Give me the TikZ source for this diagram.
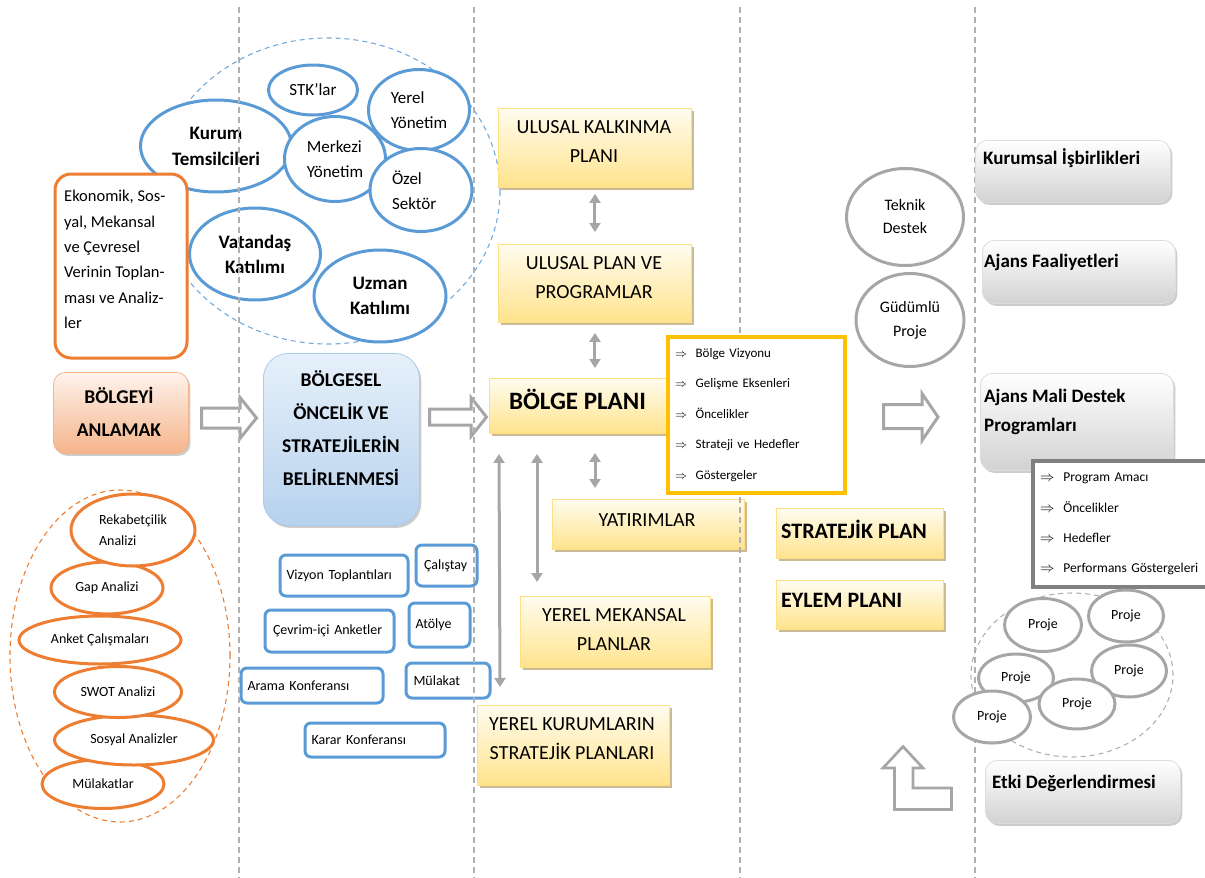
\documentclass[tikz,border=0pt]{standalone}
\usepackage{fontspec}
\setmainfont{Carlito}
\usetikzlibrary{shapes.geometric,arrows.meta,shadows,calc}
\definecolor{blueE}{HTML}{5B9BD5}
\definecolor{orangeE}{HTML}{ED7D31}
\definecolor{grayE}{HTML}{A6A6A6}
\definecolor{ytop}{HTML}{FFFCEF}
\definecolor{ybot}{HTML}{FFE38C}
\definecolor{ybord}{HTML}{FFDF85}
\definecolor{ysh}{HTML}{C4B489}
\definecolor{goldc}{HTML}{FFC000}
\definecolor{btop}{HTML}{E6F0FA}
\definecolor{bbot}{HTML}{B7D2EE}
\definecolor{bbord}{HTML}{A9CBEA}
\definecolor{otop}{HTML}{FEF3EC}
\definecolor{obot}{HTML}{F5B48A}
\definecolor{gbot}{HTML}{D2D2D2}
\definecolor{gbord}{HTML}{DDDDDD}
\definecolor{listgray}{HTML}{808080}
\definecolor{vlinec}{HTML}{B0B0B0}
\newcommand\fsz[2]{\fontsize{#1}{#2}\selectfont}
\begin{document}
\begin{tikzpicture}[x=1pt,y=-1pt,
  every node/.style={inner sep=0pt},
  blueell/.style={ellipse, draw=blueE, line width=3pt, fill=white, align=center},
  orell/.style={ellipse, draw=orangeE, line width=3pt, fill=white, align=center, font=\fsz{14}{21}},
  grell/.style={ellipse, draw=grayE, line width=3pt, fill=white, align=center},
  bsq/.style={draw=blueE, line width=3pt, rounded corners=6pt, fill=white, align=left, font=\fsz{14}{17}, anchor=north west},
  ybox/.style={draw=ybord, line width=0.9pt, top color=ytop, bottom color=ybot,
    drop shadow={shadow xshift=2.5pt, shadow yshift=-2.5pt, fill=ysh, opacity=0.9}, anchor=north west},
  gbox/.style={draw=gbord, line width=0.8pt, rounded corners=12pt, top color=white, bottom color=gbot,
    drop shadow={shadow xshift=2pt, shadow yshift=-2.5pt, fill=black, opacity=0.2}, anchor=north west},
  ytxt/.style={align=center, font=\fsz{20}{29}},
  btxt/.style={align=center, font=\fsz{19.5}{33}\bfseries},
  gtxt/.style={align=left, anchor=west, font=\fsz{19}{29}\bfseries},
  garrow/.style={draw=grayE, line width=3pt, {Triangle[width=11pt,length=9pt]}-{Triangle[width=11pt,length=9pt]}},
  hollow/.style={draw=grayE, line width=3pt, fill=white, line join=miter},
  vline/.style={draw=vlinec, line width=1.3pt, dash pattern=on 6pt off 4pt},
  dashell/.style={ellipse, line width=1.1pt, dash pattern=on 5pt off 4pt}
]
\useasboundingbox (0,0) rectangle (1205,878);

% ---------- top-left participation group ----------
\node[dashell, draw=blueE!85, minimum width=344pt, minimum height=306pt] (bg) at (328,191) {};
\node[blueell, font=\fsz{19}{26}\bfseries, minimum width=151pt, minimum height=92pt] (kt) at (216,146) {Kurum\\Temsilcileri};
\node[blueell, font=\fsz{17}{25}, minimum width=89pt, minimum height=50pt] (stk) at (313,90) {STK’lar};
\node[blueell, font=\fsz{17}{25.5}, align=left, minimum width=101pt, minimum height=81pt] (yy) at (419,110) {Yerel\\Yönetim};
\node[blueell, font=\fsz{17}{25}, align=left, minimum width=101pt, minimum height=85pt] (my) at (335,159) {Merkezi\\Yönetim};
\node[blueell, font=\fsz{17}{25.5}, align=left, text width=58pt, minimum width=102pt, minimum height=83pt] (oz) at (421,190) {Özel\\Sektör};
\node[blueell, font=\fsz{19}{25}\bfseries, minimum width=131pt, minimum height=92pt] (vk) at (255,254) {Vatandaş\\Katılımı};
\node[blueell, font=\fsz{19}{25}\bfseries, minimum width=132pt, minimum height=92pt] (uk) at (380,296) {Uzman\\Katılımı};

% ---------- left column ----------
\node[draw=orangeE, line width=3pt, rounded corners=16pt, fill=white, minimum width=132pt, minimum height=184pt, anchor=north west] (eko) at (53.5,172.5) {};
\node[anchor=west, align=left, font=\fsz{16.5}{25.4}] (ekot) at (64,259.5) {Ekonomik, Sos-\\yal, Mekansal\\ve Çevresel\\Verinin Toplan-\\ması ve Analiz-\\ler};

\node[draw=obot, line width=0.8pt, rounded corners=12pt, top color=otop, bottom color=obot,
  drop shadow={shadow xshift=2pt, shadow yshift=-2.5pt, fill=black, opacity=0.2},
  minimum width=135pt, minimum height=81pt, anchor=north west] (ba) at (53,372) {};
\node[btxt] (bat) at (119,411.5) {BÖLGEYİ\\ANLAMAK};

\node[dashell, draw=orangeE, minimum width=220pt, minimum height=332pt] (og) at (120,656) {};
\node[orell, minimum width=122pt, minimum height=49pt] (mul) at (103,784) {Mülakatlar};
\node[orell, minimum width=159pt, minimum height=50pt] (sos) at (134,740) {Sosyal Analizler};
\node[orell, minimum width=127pt, minimum height=51pt] (swot) at (118,692) {SWOT Analizi};
\node[orell, minimum width=162pt, minimum height=48pt] (ank) at (100,640) {Anket Çalışmaları};
\node[orell, minimum width=112pt, minimum height=52pt] (gap) at (107,588) {Gap Analizi};
\node[orell, align=left, minimum width=124pt, minimum height=72pt] (rek) at (133,530) {Rekabetçilik\\Analizi};

% ---------- second column ----------
\node[draw=bbord, line width=0.8pt, rounded corners=25pt, top color=btop, bottom color=bbot,
  drop shadow={shadow xshift=2pt, shadow yshift=-2.5pt, fill=black, opacity=0.2},
  minimum width=156pt, minimum height=172pt, anchor=north west] (bo) at (263,353) {};
\node[btxt] (bot) at (341,428) {BÖLGESEL\\ÖNCELİK VE\\STRATEJİLERİN\\BELİRLENMESİ};

\node[bsq, minimum height=41pt, inner xsep=6.5pt, text width=115pt] (vz) at (278.5,553.5) {Vizyon Toplantıları};
\node[bsq, minimum height=41pt, inner xsep=8pt, text width=45pt] (cal) at (414.5,543.5) {Çalıştay};
\node[bsq, minimum height=42pt, inner xsep=8pt, text width=113pt] (cev) at (263.5,608.5) {Çevrim-içi Anketler};
\node[bsq, minimum height=44pt, inner xsep=6.5pt, text width=48pt] (ato) at (407.5,601.5) {Atölye};
\node[bsq, minimum height=35pt, inner xsep=6.5pt, text width=129pt] (ara) at (239.5,666.5) {Arama Konferansı};
\node[bsq, minimum height=35pt, inner xsep=7.5pt, text width=69pt] (mlk) at (404.5,661.5) {Mülakat};
\node[bsq, minimum height=34pt, inner xsep=6.5pt, text width=127pt] (kar) at (303.5,721.5) {Karar Konferansı};

% hollow arrows
\draw[hollow] (201.5,408) -- (240,408) -- (240,397.5) -- (256.5,418) -- (240,438.5) -- (240,428) -- (201.5,428) -- cycle;
\draw[hollow] (429.5,409) -- (471,409) -- (471,397.5) -- (486.5,417) -- (471,436.5) -- (471,425) -- (429.5,425) -- cycle;

% ---------- third column: plans ----------
\node[ybox, minimum width=193pt, minimum height=79pt] (u1) at (498,108) {};
\node[ytxt] (u1t) at (594,141.5) {ULUSAL KALKINMA\\PLANI};
\node[ybox, minimum width=193pt, minimum height=78pt] (u2) at (498,244) {};
\node[ytxt] (u2t) at (594,277.5) {ULUSAL PLAN VE\\PROGRAMLAR};
\node[ybox, minimum width=185pt, minimum height=55pt] (bp) at (489,378) {};
\node[font=\fsz{25}{30}\bfseries] (bpt) at (577.5,399) {BÖLGE PLANI};
\node[ybox, minimum width=192pt, minimum height=50pt] (yat) at (552,499) {};
\node[ytxt] (yatt) at (647,520) {YATIRIMLAR};
\node[ybox, minimum width=190pt, minimum height=71pt] (ym) at (520,596) {};
\node[ytxt] (ymt) at (614,629.5) {YEREL MEKANSAL\\PLANLAR};
\node[ybox, minimum width=192pt, minimum height=80pt] (yk) at (477,705) {};
\node[ytxt] (ykt) at (572,738.5) {YEREL KURUMLARIN\\STRATEJİK PLANLARI};

\node[ybox, minimum width=167pt, minimum height=50pt] (sp) at (776,508) {};
\node[anchor=west, font=\fsz{22}{26}\bfseries] (spt) at (781,529) {STRATEJİK PLAN};
\node[ybox, minimum width=167pt, minimum height=49pt] (ep) at (776,580) {};
\node[anchor=west, font=\fsz{22}{26}\bfseries] (ept) at (781,600) {EYLEM PLANI};

% double arrows
\draw[garrow] ([yshift=-6pt]u1.south) -- ([yshift=12pt]u2.north);
\draw[garrow] ($(u2.south)+(0,10)$) -- ($(u2.south |- bp.north)+(0,-10)$);
\draw[garrow] ($(bp.south west)+(106,19)$) -- ($(yat.north west)+(43,-11)$);
\draw[garrow] ($(bp.south west)+(10,20)$) -- ($(yk.north west)+(23,-18)$);
\draw[garrow] ($(bp.south west)+(48,20)$) -- ($(ym.north west)+(17,-14)$);

% ---------- right columns ----------
\node[grell, font=\fsz{16}{23}, minimum width=117pt, minimum height=97pt] (td) at (905,217) {Teknik\\Destek};
\node[grell, font=\fsz{16}{24}, minimum width=108pt, minimum height=93pt] (gp) at (910,320) {Güdümlü\\Proje};

\draw[hollow] (883.5,404.5) -- (922,404.5) -- (922,393.5) -- (938,417) -- (922,440.5) -- (922,428.5) -- (883.5,428.5) -- cycle;
\draw[hollow, line width=2.7pt] (903,746.5) -- (923,768) -- (913,768) -- (913,788) -- (951.5,788) -- (951.5,809.5) -- (894.5,809.5) -- (894.5,768) -- (883,768) -- cycle;

% vertical dashed separators
\draw[vline] (239,7) -- (239,878);
\draw[vline] (474,7) -- (474,878);
\draw[vline] (740,7) -- (740,878);
\draw[vline] (975,7) -- (975,878);

% gold list box
\node[draw=goldc, line width=4pt, fill=white, minimum height=156pt, anchor=north west,
  text width=163pt, inner xsep=7pt, align=left, font=\fsz{13}{30.5}] (bl) at (666,335)
  {$\Rightarrow$\ \ Bölge Vizyonu\\$\Rightarrow$\ \ Gelişme Eksenleri\\$\Rightarrow$\ \ Öncelikler\\$\Rightarrow$\ \ Strateji ve Hedefler\\$\Rightarrow$\ \ Göstergeler};

% gray boxes
\node[gbox, minimum width=195pt, minimum height=62pt] (ki) at (975,140) {};
\node[gtxt] (kit) at (983,158) {Kurumsal İşbirlikleri};
\node[gbox, minimum width=193pt, minimum height=63pt] (af) at (982,240) {};
\node[gtxt] (aft) at (984,262) {Ajans Faaliyetleri};
\node[gbox, minimum width=193pt, minimum height=97pt] (am) at (980,373) {};
\node[gtxt] (amt) at (984,411.5) {Ajans Mali Destek\\Programları};

\node[draw=listgray, line width=4pt, fill=white, minimum height=126pt, anchor=north west,
  text width=167pt, inner xsep=7pt, align=left, font=\fsz{13.5}{30.3}] (gl) at (1031,459)
  {$\Rightarrow$\ \ Program Amacı\\$\Rightarrow$\ \ Öncelikler\\$\Rightarrow$\ \ Hedefler\\$\Rightarrow$\ \ Performans Göstergeleri};

% project group
\node[dashell, draw=grayE!90, minimum width=202pt, minimum height=164pt] (pg) at (1072,675) {};
\node[grell, font=\fsz{14}{17}, minimum width=77pt, minimum height=53pt] (p1) at (1043,625) {Proje};
\node[grell, font=\fsz{14}{17}, minimum width=75pt, minimum height=52pt] (p2) at (1126,616) {Proje};
\node[grell, font=\fsz{14}{17}, minimum width=75pt, minimum height=48pt] (p3) at (1016,678) {Proje};
\node[grell, font=\fsz{14}{17}, minimum width=75pt, minimum height=52pt] (p4) at (1129,671) {Proje};
\node[grell, font=\fsz{14}{17}, minimum width=76pt, minimum height=50pt] (p5) at (1077,704) {Proje};
\node[grell, font=\fsz{14}{17}, minimum width=77pt, minimum height=52pt] (p6) at (992,717) {Proje};

\node[gbox, minimum width=195pt, minimum height=63pt] (ed) at (985,760) {};
\node[gtxt] (edt) at (992,783) {Etki Değerlendirmesi};
\end{tikzpicture}
\end{document}
